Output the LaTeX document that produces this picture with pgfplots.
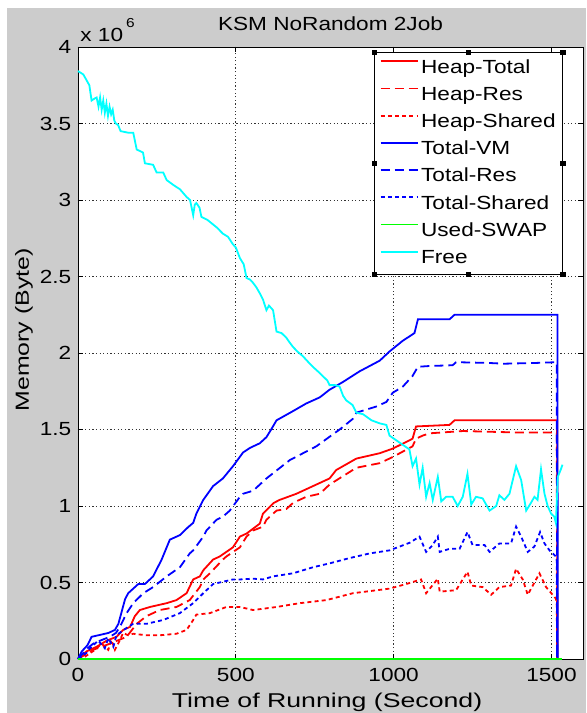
\documentclass[border=0pt]{standalone}
\usepackage{pgfplots}
\pgfplotsset{compat=1.18}
\usepackage{graphicx}
\usepackage{fontspec}
\setmainfont{Liberation Sans}[FakeStretch=1.19]
\definecolor{figgray}{rgb}{0.8,0.8,0.8}
\definecolor{mred}{rgb}{1,0,0}
\definecolor{mblue}{rgb}{0,0,1}
\definecolor{mgreen}{rgb}{0,1,0}
\definecolor{mcyan}{rgb}{0,1,1}
\begin{document}
\fontsize{9.5}{11.4}\selectfont
\begin{tikzpicture}
\path[use as bounding box] (0pt,0pt) rectangle (293pt,356.5pt);
\fill[white] (0pt,0pt) rectangle (293pt,356.5pt);
\fill[figgray] (3.5pt,0pt) rectangle (293pt,352.5pt);
\begin{axis}[
  at={(39pt,27pt)}, anchor=south west,
  scale only axis, width=252.5pt, height=306pt,
  xmin=0, xmax=1600, ymin=0, ymax=4,
  xtick={0,500,1000,1500},
  ytick={0,0.5,1,1.5,2,2.5,3,3.5,4},
  /pgf/number format/assume math mode=true,
  /pgf/number format/fixed,
  /pgf/number format/set thousands separator={},
  tick label style={font=\fontsize{9.5}{11}\selectfont},
  xticklabel style={yshift=-1.3pt},
  tick align=inside, xtick pos=both, ytick pos=both,
  major tick length=2.5pt,
  tick style={black, line width=0.4pt},
  grid=major,
  major grid style={dash pattern=on 0.6pt off 1.2pt, line width=0.45pt, black!80},
  axis line style={black, line width=0.4pt},
  axis background/.style={fill=white},
  clip=false,
  legend cell align=left,
  legend image code/.code={\draw[#1] (0pt,3.4pt) -- (18.8pt,3.4pt);},
  legend style={name=leg, at={(0.9604,0.9915)}, anchor=north east,
    draw=black, fill=white, inner xsep=2.5pt, inner ysep=1pt,
    font=\fontsize{9.5}{11}\selectfont, row sep=0pt,
    nodes={inner xsep=1pt, inner ysep=2.35pt, text height=6.9pt, text depth=2pt}},
]
\addplot[color=mred, line width=0.9pt] coordinates {
(0,0) (27,0.05) (59,0.08) (91,0.12) (122,0.145) (143,0.19) (165,0.21) (180,0.28)
(196,0.32) (228,0.34) (281,0.365) (312,0.385) (344,0.43) (365,0.52) (386,0.54)
(397,0.58) (428,0.65) (449,0.67) (491,0.73) (513,0.80) (534,0.82) (576,0.885)
(586,0.95) (620,1.02) (639,1.04) (692,1.08) (755,1.14) (797,1.18) (818,1.235)
(882,1.31) (956,1.345) (997,1.375) (1051,1.43) (1060,1.44) (1071,1.52)
(1177,1.53) (1193,1.56) (1518,1.56) (1519,0)
};
\addlegendentry{Heap-Total}
\addplot[color=mred, line width=0.9pt, dash pattern=on 4.5pt off 2.5pt] coordinates {
(0,0) (48,0.06) (101,0.10) (154,0.145) (186,0.23) (217,0.28) (259,0.32) (312,0.34)
(354,0.385) (386,0.47) (397,0.52) (418,0.56) (459,0.65) (470,0.67) (513,0.73)
(534,0.80) (555,0.84) (586,0.865) (597,0.91) (629,0.97) (660,0.98) (681,1.02)
(723,1.06) (766,1.08) (797,1.14) (882,1.25) (956,1.28) (997,1.32) (1060,1.39)
(1071,1.44) (1092,1.46) (1114,1.475) (1219,1.49) (1400,1.48) (1517,1.48) (1518,0)
};
\addlegendentry{Heap-Res}
\addplot[color=mred, line width=0.9pt, dash pattern=on 2pt off 1.6pt] coordinates {
(0,0) (22,0.015) (54,0.06) (75,0.10) (96,0.06) (106,0.125) (117,0.06) (133,0.125)
(143,0.17) (159,0.155) (175,0.165) (217,0.155) (259,0.155) (312,0.165) (344,0.19)
(365,0.255) (375,0.29) (418,0.30) (470,0.34) (513,0.34) (555,0.32) (629,0.34)
(703,0.365) (787,0.385) (871,0.43) (987,0.46) (1040,0.49) (1087,0.52) (1103,0.43)
(1140,0.525) (1146,0.44) (1198,0.45) (1234,0.57) (1246,0.48) (1282,0.47)
(1309,0.42) (1335,0.47) (1372,0.48) (1388,0.59) (1409,0.52) (1425,0.42)
(1462,0.56) (1483,0.47) (1514,0.395) (1517,0.35) (1518,0)
};
\addlegendentry{Heap-Shared}
\addplot[color=mblue, line width=0.9pt] coordinates {
(0,0) (12,0.05) (30,0.09) (43,0.145) (96,0.17) (117,0.19) (128,0.23) (149,0.39)
(159,0.43) (191,0.49) (212,0.49) (238,0.54) (265,0.65) (291,0.78) (323,0.81)
(348,0.86) (365,0.89) (375,0.95) (397,1.04) (428,1.13) (459,1.18) (491,1.26)
(523,1.35) (545,1.38) (576,1.41) (597,1.45) (612,1.50) (629,1.56) (681,1.62)
(723,1.67) (766,1.71) (797,1.76) (839,1.81) (892,1.88) (956,1.95) (987,2.01)
(1029,2.08) (1066,2.13) (1077,2.22) (1177,2.22) (1193,2.25) (1519,2.25) (1520,0)
};
\addlegendentry{Total-VM}
\addplot[color=mblue, line width=0.9pt, dash pattern=on 4.5pt off 2.5pt] coordinates {
(0,0) (17,0.04) (30,0.07) (48,0.10) (70,0.12) (101,0.145) (120,0.17) (133,0.21)
(154,0.30) (175,0.365) (207,0.43) (238,0.47) (281,0.54) (323,0.60) (354,0.69)
(365,0.71) (397,0.80) (407,0.84) (439,0.91) (459,0.93) (481,0.97) (513,1.06)
(523,1.08) (555,1.10) (597,1.18) (671,1.30) (755,1.39) (829,1.50) (871,1.57)
(882,1.61) (945,1.65) (977,1.68) (997,1.74) (1029,1.78) (1060,1.85) (1077,1.91)
(1114,1.915) (1187,1.92) (1198,1.94) (1300,1.935) (1350,1.93) (1450,1.935)
(1517,1.94) (1518,0)
};
\addlegendentry{Total-Res}
\addplot[color=mblue, line width=0.9pt, dash pattern=on 2pt off 1.6pt] coordinates {
(0,0) (27,0.04) (33,0.06) (64,0.12) (85,0.07) (96,0.135) (112,0.08) (122,0.155)
(138,0.18) (159,0.21) (175,0.23) (217,0.23) (270,0.255) (323,0.30) (365,0.365)
(397,0.43) (428,0.49) (449,0.50) (491,0.52) (513,0.52) (555,0.525) (586,0.52)
(618,0.54) (681,0.56) (745,0.60) (797,0.625) (861,0.66) (924,0.69) (987,0.71)
(1051,0.76) (1082,0.80) (1103,0.70) (1124,0.745) (1140,0.80) (1146,0.70)
(1177,0.72) (1209,0.72) (1234,0.83) (1250,0.745) (1288,0.745) (1304,0.70)
(1335,0.755) (1372,0.755) (1388,0.865) (1404,0.80) (1425,0.70) (1446,0.735)
(1464,0.83) (1478,0.755) (1494,0.71) (1514,0.67) (1517,0.64) (1518,0)
};
\addlegendentry{Total-Shared}
\addplot[color=mgreen, line width=0.9pt] coordinates {(0,0) (1535,0)};
\addlegendentry{Used-SWAP}
\addplot[color=mcyan, line width=0.9pt] coordinates {
(0,3.843) (17,3.82) (36,3.75) (43,3.65) (50,3.66) (59,3.67) (65,3.61) (70,3.67)
(75,3.59) (80,3.65) (85,3.57) (90,3.63) (95,3.55) (100,3.61) (105,3.56) (110,3.59)
(115,3.52) (120,3.50) (127,3.49) (135,3.45) (159,3.44) (175,3.44) (186,3.33)
(206,3.31) (212,3.24) (238,3.23) (249,3.18) (270,3.18) (281,3.13) (301,3.10)
(323,3.07) (344,3.02) (355,3.00) (365,2.90) (370,2.97) (375,2.98) (385,2.95)
(391,2.89) (410,2.87) (428,2.84) (440,2.82) (459,2.78) (475,2.76) (491,2.71)
(500,2.69) (513,2.62) (525,2.58) (534,2.49) (545,2.48) (554,2.46) (565,2.43)
(576,2.39) (586,2.35) (597,2.28) (605,2.31) (618,2.28) (629,2.14) (645,2.13)
(660,2.10) (670,2.07) (681,2.04) (695,2.01) (712,1.98) (730,1.94) (744,1.91)
(760,1.88) (775,1.85) (790,1.82) (797,1.79) (815,1.79) (829,1.78) (840,1.72)
(850,1.69) (870,1.66) (882,1.61) (903,1.60) (930,1.56) (956,1.54) (977,1.53)
(987,1.46) (1008,1.43) (1029,1.40) (1050,1.37) (1060,1.26) (1071,1.31)
(1082,1.14) (1092,1.25) (1103,1.06) (1114,1.15) (1124,1.04) (1140,1.19)
(1151,1.03) (1166,1.06) (1187,1.06) (1203,1.00) (1219,1.06) (1234,1.21)
(1246,1.01) (1261,1.06) (1282,1.05) (1304,0.97) (1325,1.00) (1335,1.07)
(1351,1.04) (1367,1.08) (1388,1.26) (1404,1.17) (1420,0.97) (1435,1.02)
(1446,1.06) (1456,1.04) (1467,1.24) (1478,1.08) (1488,1.00) (1499,0.95)
(1509,0.93) (1514,0.89) (1518,1.08) (1520,1.19) (1530,1.24) (1535,1.27)
};
\addlegendentry{Free}
\end{axis}
\foreach \a in {north west,north,north east,east,south east,south,south west,west}{
  \fill[black] (leg.\a) ++(-1.3pt,-1.3pt) rectangle ++(2.6pt,2.6pt);
}
\node[anchor=base] at (165.25pt,341pt) {KSM NoRandom 2Job};
\node[anchor=base west, inner sep=0pt] at (40pt,335.7pt) {x 10\hspace{1.5pt}\raisebox{6.8pt}{\fontsize{6.5}{7}\selectfont 6}};
\node[rotate=90, anchor=center, inner sep=0pt] at (12pt,191.5pt) {\scalebox{1.1}[1]{Memory (Byte)}};
\node[anchor=base] at (163.5pt,3pt) {\scalebox{1.18}[1.05]{Time of Running (Second)}};
\end{tikzpicture}
\end{document}
